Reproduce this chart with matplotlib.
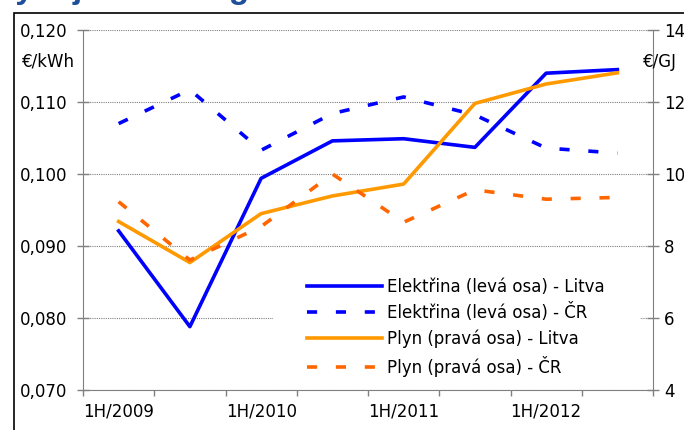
import numpy as np
import matplotlib
matplotlib.use('Agg')
import matplotlib.pyplot as plt
from matplotlib.patches import Rectangle

BLUE = "#0000FF"
ORANGE = "#FF9900"
RED_ORANGE = "#FF6600"
GRID_COLOR = "#808080"
LINE_WIDTH = 2.6
DASHES = (0, (2.8, 5.2))

periods = ['1H/2009', '2H/2009', '1H/2010', '2H/2010',
           '1H/2011', '2H/2011', '1H/2012', '2H/2012']
elec_lt = [0.0921, 0.0788, 0.0994, 0.1046, 0.1049, 0.1037, 0.1140, 0.1145]
elec_cz = [0.1070, 0.1117, 0.1033, 0.1084, 0.1107, 0.1082, 0.1036, 0.1029]
gas_lt = [8.68, 7.54, 8.90, 9.39, 9.72, 11.96, 12.50, 12.81]
gas_cz = [9.23, 7.61, 8.54, 10.00, 8.66, 9.56, 9.30, 9.35]

left_ticks = [0.070, 0.080, 0.090, 0.100, 0.110, 0.120]
right_ticks = [4, 6, 8, 10, 12, 14]
labels = ['Elektřina (levá osa) - Litva', 'Elektřina (levá osa) - ČR',
          'Plyn (pravá osa) - Litva', 'Plyn (pravá osa) - ČR']

plt.rcParams['font.family'] = ['DejaVu Sans']
plt.rcParams['font.size'] = 12

fig = plt.figure(figsize=(6.84, 4.30), dpi=100)
ax1 = fig.add_axes([83 / 684, 40 / 430, 570 / 684, 360 / 430])
ax2 = ax1.twinx()

x = np.arange(len(periods))
h1, = ax1.plot(x, elec_lt, color=BLUE, lw=LINE_WIDTH, label=labels[0])
h2, = ax1.plot(x, elec_cz, color=BLUE, lw=LINE_WIDTH, ls=DASHES,
               dash_capstyle='butt', label=labels[1])
h3, = ax2.plot(x, gas_lt, color=ORANGE, lw=LINE_WIDTH, label=labels[2])
h4, = ax2.plot(x, gas_cz, color=RED_ORANGE, lw=LINE_WIDTH, ls=DASHES,
               dash_capstyle='butt', label=labels[3])

ax1.set_xlim(-0.5, len(periods) - 0.5)
ax1.set_ylim(0.07, 0.12)
ax2.set_ylim(4, 14)

# category boundaries get the tick marks, every other category gets a label
ax1.set_xticks(np.arange(len(periods) + 1) - 0.5)
ax1.set_xticklabels([])
ax1.set_xticks(x[::2], minor=True)
ax1.set_xticklabels(periods[::2], minor=True)
ax1.tick_params(axis='x', which='major', direction='out', length=4, width=1, color=GRID_COLOR)
ax1.tick_params(axis='x', which='minor', length=0, pad=9)

ax1.set_yticks(left_ticks)
ax1.set_yticklabels([f"{v:.3f}".replace('.', ',') for v in left_ticks])
ax1.tick_params(axis='y', direction='inout', length=8, width=1, color=GRID_COLOR, pad=7)
ax2.set_yticks(right_ticks)
ax2.set_yticklabels([str(v) for v in right_ticks])
ax2.tick_params(axis='y', direction='inout', length=8, width=1, color=GRID_COLOR, pad=4)

ax1.grid(axis='y', color=GRID_COLOR, lw=0.8, ls=(0, (1, 1)))
ax1.set_axisbelow(True)

for name, sp in ax1.spines.items():
    sp.set_visible(name in ('left', 'bottom'))
    sp.set_color(GRID_COLOR)
for name, sp in ax2.spines.items():
    sp.set_visible(name == 'right')
    sp.set_color(GRID_COLOR)

# white box behind the legend hides the grid line
ax2.add_patch(Rectangle((0.333, 0.006), 0.644, 0.355, transform=ax2.transAxes,
                        facecolor='white', edgecolor='none', zorder=3))
leg = ax2.legend(handles=[h1, h2, h3, h4], loc='upper left', bbox_to_anchor=(0.393, 0.312),
                 frameon=False, borderpad=0, borderaxespad=0, handlelength=4.5,
                 handletextpad=0.3, labelspacing=0.45, fontsize=12)
leg.set_zorder(4)

fig.text(22 / 684, 1 - 62 / 430, '€/kWh', va='center', ha='left')
fig.text(643 / 684, 1 - 62 / 430, '€/GJ', va='center', ha='left')

# chart title sits above the visible area, only its descenders show
fig.text(-7 / 684, 1 + 2 / 430, 'Vývoj cen energií', family='Liberation Sans', fontsize=24,
         fontweight='bold', color='#1F4E9A', va='baseline', ha='left')
fig.patches.append(Rectangle((14 / 684, -0.1), 1.2, 1 - 13 / 430 + 0.1, transform=fig.transFigure,
                             fill=False, edgecolor='black', lw=1.2))

fig.savefig('out.png', dpi=100)
